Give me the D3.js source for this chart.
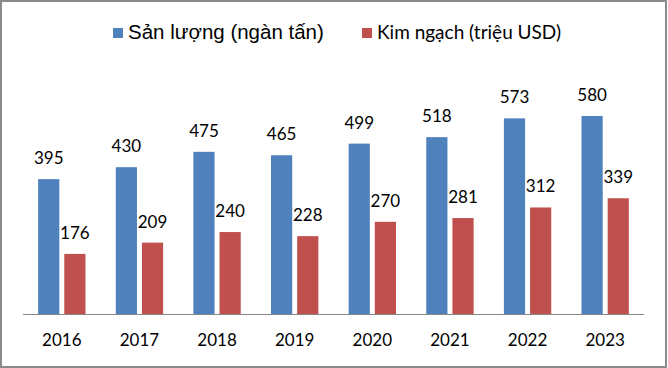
<!DOCTYPE html>
<html lang="vi">
<head>
    <meta charset="UTF-8">
    <title>Sản lượng và kim ngạch 2016-2023</title>
    <script src="https://d3js.org/d3.v7.min.js"></script>
    <style>
        body { margin: 0; background: #fff; }
        svg { display: block; }
        .val, .tick-label { font-family: Lato, "Open Sans", sans-serif; font-size: 17px; fill: #000; }
    </style>
</head>
<body>
    <div id="chart"></div>
    <script>
        // Data
        const years = ["2016", "2017", "2018", "2019", "2020", "2021", "2022", "2023"];
        const sanLuong = [395, 430, 475, 465, 499, 518, 573, 580];
        const kimNgach = [176, 209, 240, 228, 270, 281, 312, 339];
        const seriesNames = ["Sản lượng (ngàn tấn)", "Kim ngạch (triệu USD)"];
        const colors = ["#4F81BD", "#C0504D"];

        const width = 668, height = 368;
        const svg = d3.select("#chart").append("svg")
            .attr("width", width)
            .attr("height", height);

        // outer frame
        svg.append("rect")
            .attr("x", 1).attr("y", 1)
            .attr("width", 665).attr("height", 366)
            .attr("fill", "#fff")
            .attr("stroke", "#8a8a8a")
            .attr("stroke-width", 2);

        const x0 = d3.scaleBand()
            .domain(years)
            .range([23, 644])
            .paddingInner(0.39)
            .paddingOuter(0.195);

        const x1 = d3.scaleBand()
            .domain([0, 1])
            .range([0, x0.bandwidth()])
            .paddingInner(0.19);

        const y = d3.scaleLinear()
            .domain([0, 700])
            .range([314, 75]);

        const rows = years.map((yr, i) => ({ year: yr, values: [sanLuong[i], kimNgach[i]] }));

        const groups = svg.selectAll(".grp")
            .data(rows)
            .enter().append("g")
            .attr("class", "grp")
            .attr("transform", d => `translate(${x0(d.year)},0)`);

        groups.selectAll("rect")
            .data(d => d.values.map((v, s) => ({ v, s })))
            .enter().append("rect")
            .attr("x", d => x1(d.s))
            .attr("y", d => y(d.v))
            .attr("width", x1.bandwidth())
            .attr("height", d => y(0) - y(d.v))
            .attr("fill", d => colors[d.s]);

        groups.selectAll(".val")
            .data(d => d.values.map((v, s) => ({ v, s })))
            .enter().append("text")
            .attr("class", "val")
            .attr("text-anchor", "middle")
            .attr("x", d => x1(d.s) + x1.bandwidth() / 2)
            .attr("y", d => y(d.v) - 15)
            .text(d => d.v);

        // baseline
        const xAxis = svg.append("g")
            .attr("transform", `translate(0,${y(0)})`)
            .call(d3.axisBottom(x0).tickSize(0).tickPadding(20));
        xAxis.select(".domain").attr("stroke", "#868686").attr("d", "M23,0.5H644");
        xAxis.selectAll("text")
            .attr("class", "tick-label")
            .attr("dy", "0.71em")
            .attr("y", 20)
            .style("font-family", "Lato, 'Open Sans', sans-serif")
            .style("font-size", "17px")
            .attr("fill", "#000");

        // legend
        const legend = [
            { name: seriesNames[0], color: colors[0], x: 113, font: "'Liberation Sans', Arial, sans-serif", size: 20.5 },
            { name: seriesNames[1], color: colors[1], x: 362, font: "Lato, 'Open Sans', sans-serif", size: 19 }
        ];
        const lg = svg.selectAll(".lg")
            .data(legend)
            .enter().append("g")
            .attr("transform", d => `translate(${d.x},0)`);
        lg.append("rect")
            .attr("x", 0).attr("y", 28)
            .attr("width", 10).attr("height", 10)
            .attr("fill", d => d.color);
        lg.append("text")
            .attr("x", 15).attr("y", 38.5)
            .style("font-family", d => d.font)
            .style("font-size", d => d.size + "px")
            .attr("fill", "#000")
            .text(d => d.name);
    </script>
</body>
</html>
